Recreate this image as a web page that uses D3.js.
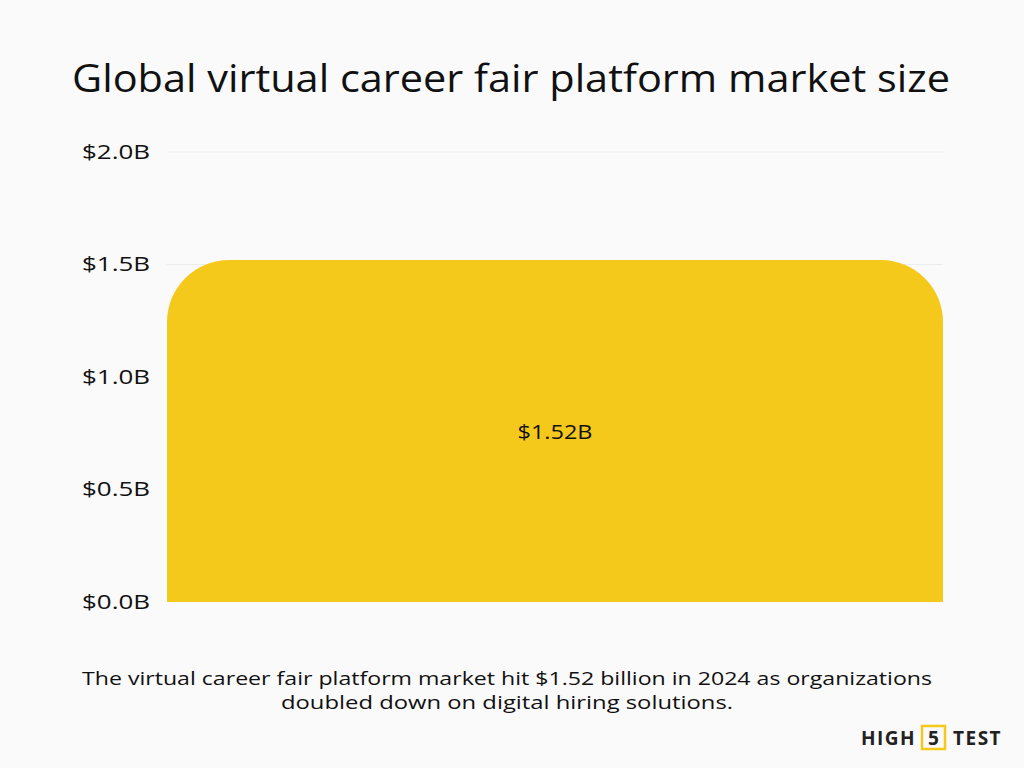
<!DOCTYPE html>
<html><head><meta charset="utf-8">
<script src="https://cdn.jsdelivr.net/npm/d3@7"></script>
<style>body{margin:0;background:#fafafa;font-family:"Open Sans",sans-serif;}</style>
</head><body>
<svg id="chart" width="1024" height="768"></svg>
<script>
const categories = ["2024"];
const values = [1.52];
const valueLabels = ["$1.52B"];
const yTicks = [0, 0.5, 1.0, 1.5, 2.0];

const margin = {top: 152, left: 167, right: 81, bottom: 166},
    width = 1024 - margin.left - margin.right,
    height = 768 - margin.top - margin.bottom;

const svg = d3.select("#chart");
svg.append("rect").attr("width", 1024).attr("height", 768).attr("fill", "#fafafa");

svg.append("text").attr("x", 72).attr("y", 92)
    .attr("font-size", 39).attr("fill", "#111")
    .attr("textLength", 878).attr("lengthAdjust", "spacingAndGlyphs")
    .text("Global virtual career fair platform market size");

const g = svg.append("g").attr("transform", "translate(" + margin.left + "," + margin.top + ")");
const x = d3.scaleBand().domain(categories).range([0, width]).padding(0);
const y = d3.scaleLinear().domain([0, 2]).range([height, 0]);

// grid
g.selectAll(".grid").data(yTicks.filter(d => d > 0)).enter().append("line")
    .attr("x1", 0).attr("x2", width)
    .attr("y1", d => y(d)).attr("y2", d => y(d))
    .attr("stroke", "#ececec").attr("stroke-width", 1);

const yAxis = g.append("g").call(d3.axisLeft(y).tickValues(yTicks).tickSize(0).tickPadding(17)
    .tickFormat(d => "$" + d.toFixed(1) + "B"));
yAxis.select(".domain").remove();
yAxis.selectAll("text").attr("font-size", 20).attr("fill", "#111").attr("font-family", "Open Sans")
    .attr("textLength", 68).attr("lengthAdjust", "spacingAndGlyphs");

const r = 62;
g.selectAll(".bar").data(values).enter().append("path")
    .attr("fill", "#f5c81c")
    .attr("d", (d, i) => {
        const x0 = x(categories[i]), x1 = x0 + x.bandwidth(), yt = y(d), yb = y(0);
        return `M${x0},${yb} L${x0},${yt + r} A${r},${r} 0 0 1 ${x0 + r},${yt} L${x1 - r},${yt} A${r},${r} 0 0 1 ${x1},${yt + r} L${x1},${yb} Z`;
    });

g.selectAll(".lbl").data(values).enter().append("text")
    .attr("x", (d, i) => x(categories[i]) + x.bandwidth() / 2)
    .attr("y", d => (y(d) + y(0)) / 2 + 8)
    .attr("text-anchor", "middle").attr("font-size", 20).attr("fill", "#111")
    .attr("textLength", 75).attr("lengthAdjust", "spacingAndGlyphs")
    .text((d, i) => valueLabels[i]);

const foot = svg.append("g").attr("font-size", 18.5).attr("fill", "#111");
foot.append("text").attr("x", 82).attr("y", 685).attr("textLength", 850).attr("lengthAdjust", "spacingAndGlyphs")
    .text("The virtual career fair platform market hit $1.52 billion in 2024 as organizations");
foot.append("text").attr("x", 281).attr("y", 709).attr("textLength", 452).attr("lengthAdjust", "spacingAndGlyphs")
    .text("doubled down on digital hiring solutions.");

// logo
const logo = svg.append("g").attr("font-size", 19).attr("font-weight", "bold").attr("fill", "#222");
logo.append("text").attr("x", 861).attr("y", 745).attr("letter-spacing", 1.5).text("HIGH");
logo.append("rect").attr("x", 922).attr("y", 726).attr("width", 23).attr("height", 23)
    .attr("fill", "none").attr("stroke", "#f5c81c").attr("stroke-width", 2.5);
logo.append("text").attr("x", 933.5).attr("y", 745).attr("text-anchor", "middle").text("5");
logo.append("text").attr("x", 953).attr("y", 745).attr("letter-spacing", 1.5).text("TEST");
</script>
</body></html>
